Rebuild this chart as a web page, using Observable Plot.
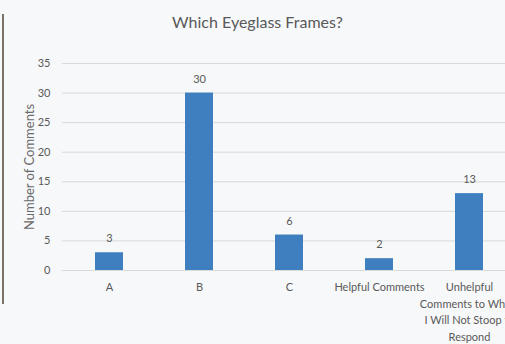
<!DOCTYPE html>
<html>
<head>
<meta charset="utf-8">
<script src="https://cdn.jsdelivr.net/npm/d3@7"></script>
<script src="https://cdn.jsdelivr.net/npm/@observablehq/plot@0.6"></script>
<style>
  html, body { margin: 0; padding: 0; background: #f7f8fa; }
  #wrap { position: relative; width: 505px; height: 344px; overflow: hidden; background: #f7f8fa; }
  #title { height: 40px; line-height: 44px; text-align: center; padding-left: 10px;
    font-family: Lato, "Open Sans", sans-serif; font-size: 16px; color: #595959; }
  #edge { position: absolute; left: 2px; top: 14px; width: 2px; height: 290px; background: #7a7266; }
  svg { display: block; }
</style>
</head>
<body>
<div id="wrap">
  <div id="edge"></div>
  <div id="title">Which Eyeglass Frames?</div>
  <div id="chart"></div>
</div>
<script>
const categories = ["A", "B", "C", "Helpful Comments", "Unhelpful Comments to Which I Will Not Stoop to Respond"];
const tickLabels = ["A", "B", "C", "Helpful Comments", "Unhelpful\nComments to Which\nI Will Not Stoop to\nRespond"];
const comments = [3, 30, 6, 2, 13];
const yTicks = [0, 5, 10, 15, 20, 25, 30, 35];

const data = categories.map((c, i) => ({category: c, value: comments[i]}));
const labelOf = new Map(categories.map((c, i) => [c, tickLabels[i]]));

const font = 'Lato, "Open Sans", sans-serif';
const chart = Plot.plot({
  width: 505,
  height: 304,
  marginTop: 23,
  marginBottom: 74,
  marginLeft: 62,
  marginRight: 0,
  style: {fontFamily: font, fontSize: "11px", color: "#595959", background: "transparent", overflow: "visible"},
  x: {domain: categories, range: [62, 516], paddingInner: 0.69, paddingOuter: 0.345, label: null},
  y: {domain: [0, 35], ticks: yTicks, label: "Number of Comments"},
  marks: [
    Plot.gridY(yTicks, {stroke: "#d9d9d9", strokeOpacity: 1}),
    Plot.axisY({ticks: yTicks, tickSize: 0, tickPadding: 12, label: null, fill: "#595959", fontSize: 11}),
    Plot.axisY({ticks: [], tickSize: 0, label: "Number of Comments",
      labelAnchor: "center", labelArrow: "none", labelOffset: 38, fill: "#6a6a6a", fontSize: 13}),
    Plot.axisX({tickSize: 0, tickPadding: 9, tickFormat: d => labelOf.get(d), lineHeight: 1.5,
      fill: "#595959", fontSize: 11, label: null}),
    Plot.barY(data, {x: "category", y: "value", fill: "#3f7fbf"}),
    Plot.text(data, {x: "category", y: "value", text: d => String(d.value), dy: -14, fill: "#595959", fontSize: 11})
  ]
});
document.getElementById("chart").appendChild(chart);
</script>
</body>
</html>
